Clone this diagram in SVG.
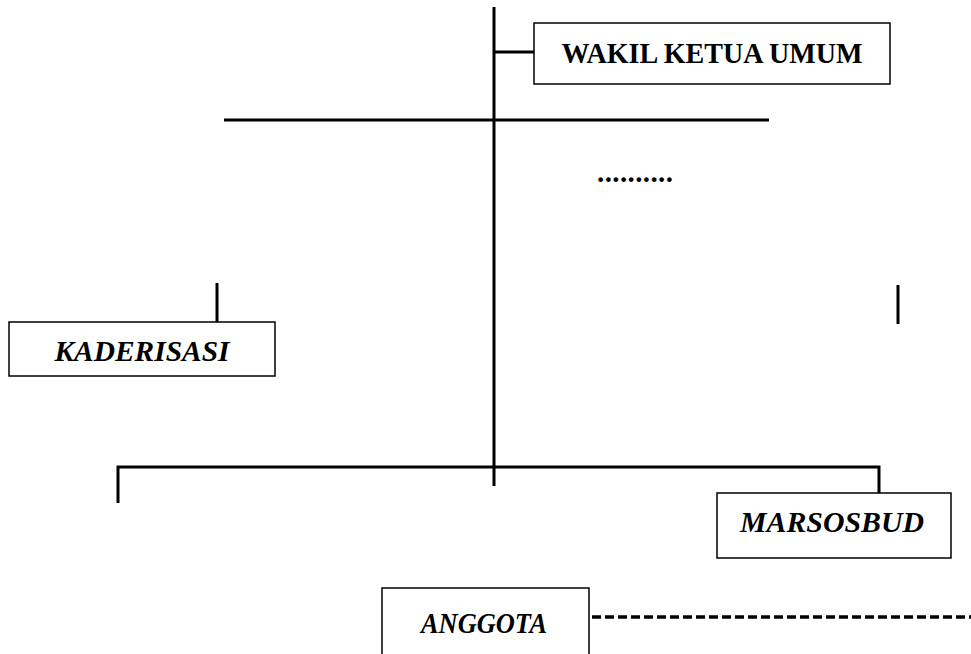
<svg xmlns="http://www.w3.org/2000/svg" width="971" height="654" viewBox="0 0 971 654">
<style>
.ln{stroke:#000;stroke-width:3;fill:none}
.bx{fill:#fff;stroke:#000;stroke-width:1.5}
.t{font-family:"Liberation Serif",serif;font-weight:bold;font-size:29px;fill:#000;text-anchor:middle}
.i{font-style:italic}
</style>
<rect width="971" height="654" fill="#fff"/>
<g id="connectors">
<line class="ln" x1="494" y1="7" x2="494" y2="486"/>
<line class="ln" x1="494" y1="52" x2="535" y2="52"/>
<line class="ln" x1="224" y1="120" x2="769" y2="120"/>
<line class="ln" x1="217" y1="283" x2="217" y2="322"/>
<line class="ln" x1="898" y1="285" x2="898" y2="324"/>
<polyline class="ln" points="118,503 118,467 879,467 879,493"/>
<line class="ln" x1="592" y1="617" x2="971" y2="617" stroke-dasharray="9,4" style="stroke-width:3.5"/>
</g>
<g id="wakil">
<rect class="bx" x="534" y="23" width="356" height="61"/>
<text class="t" x="712" y="63" textLength="301" lengthAdjust="spacingAndGlyphs">WAKIL KETUA UMUM</text>
</g>
<g id="dots">
<text class="t" x="635" y="182" textLength="76" lengthAdjust="spacing">..........</text>
</g>
<g id="kaderisasi">
<rect class="bx" x="9" y="322" width="266" height="54"/>
<text class="t i" x="142" y="361" textLength="175" lengthAdjust="spacingAndGlyphs">KADERISASI</text>
</g>
<g id="marsosbud">
<rect class="bx" x="717" y="493" width="234" height="65"/>
<text class="t i" x="832" y="532" textLength="184" lengthAdjust="spacingAndGlyphs">MARSOSBUD</text>
</g>
<g id="anggota">
<rect class="bx" x="382" y="588" width="207" height="80"/>
<text class="t i" x="484" y="633" textLength="126" lengthAdjust="spacingAndGlyphs">ANGGOTA</text>
</g>
</svg>
